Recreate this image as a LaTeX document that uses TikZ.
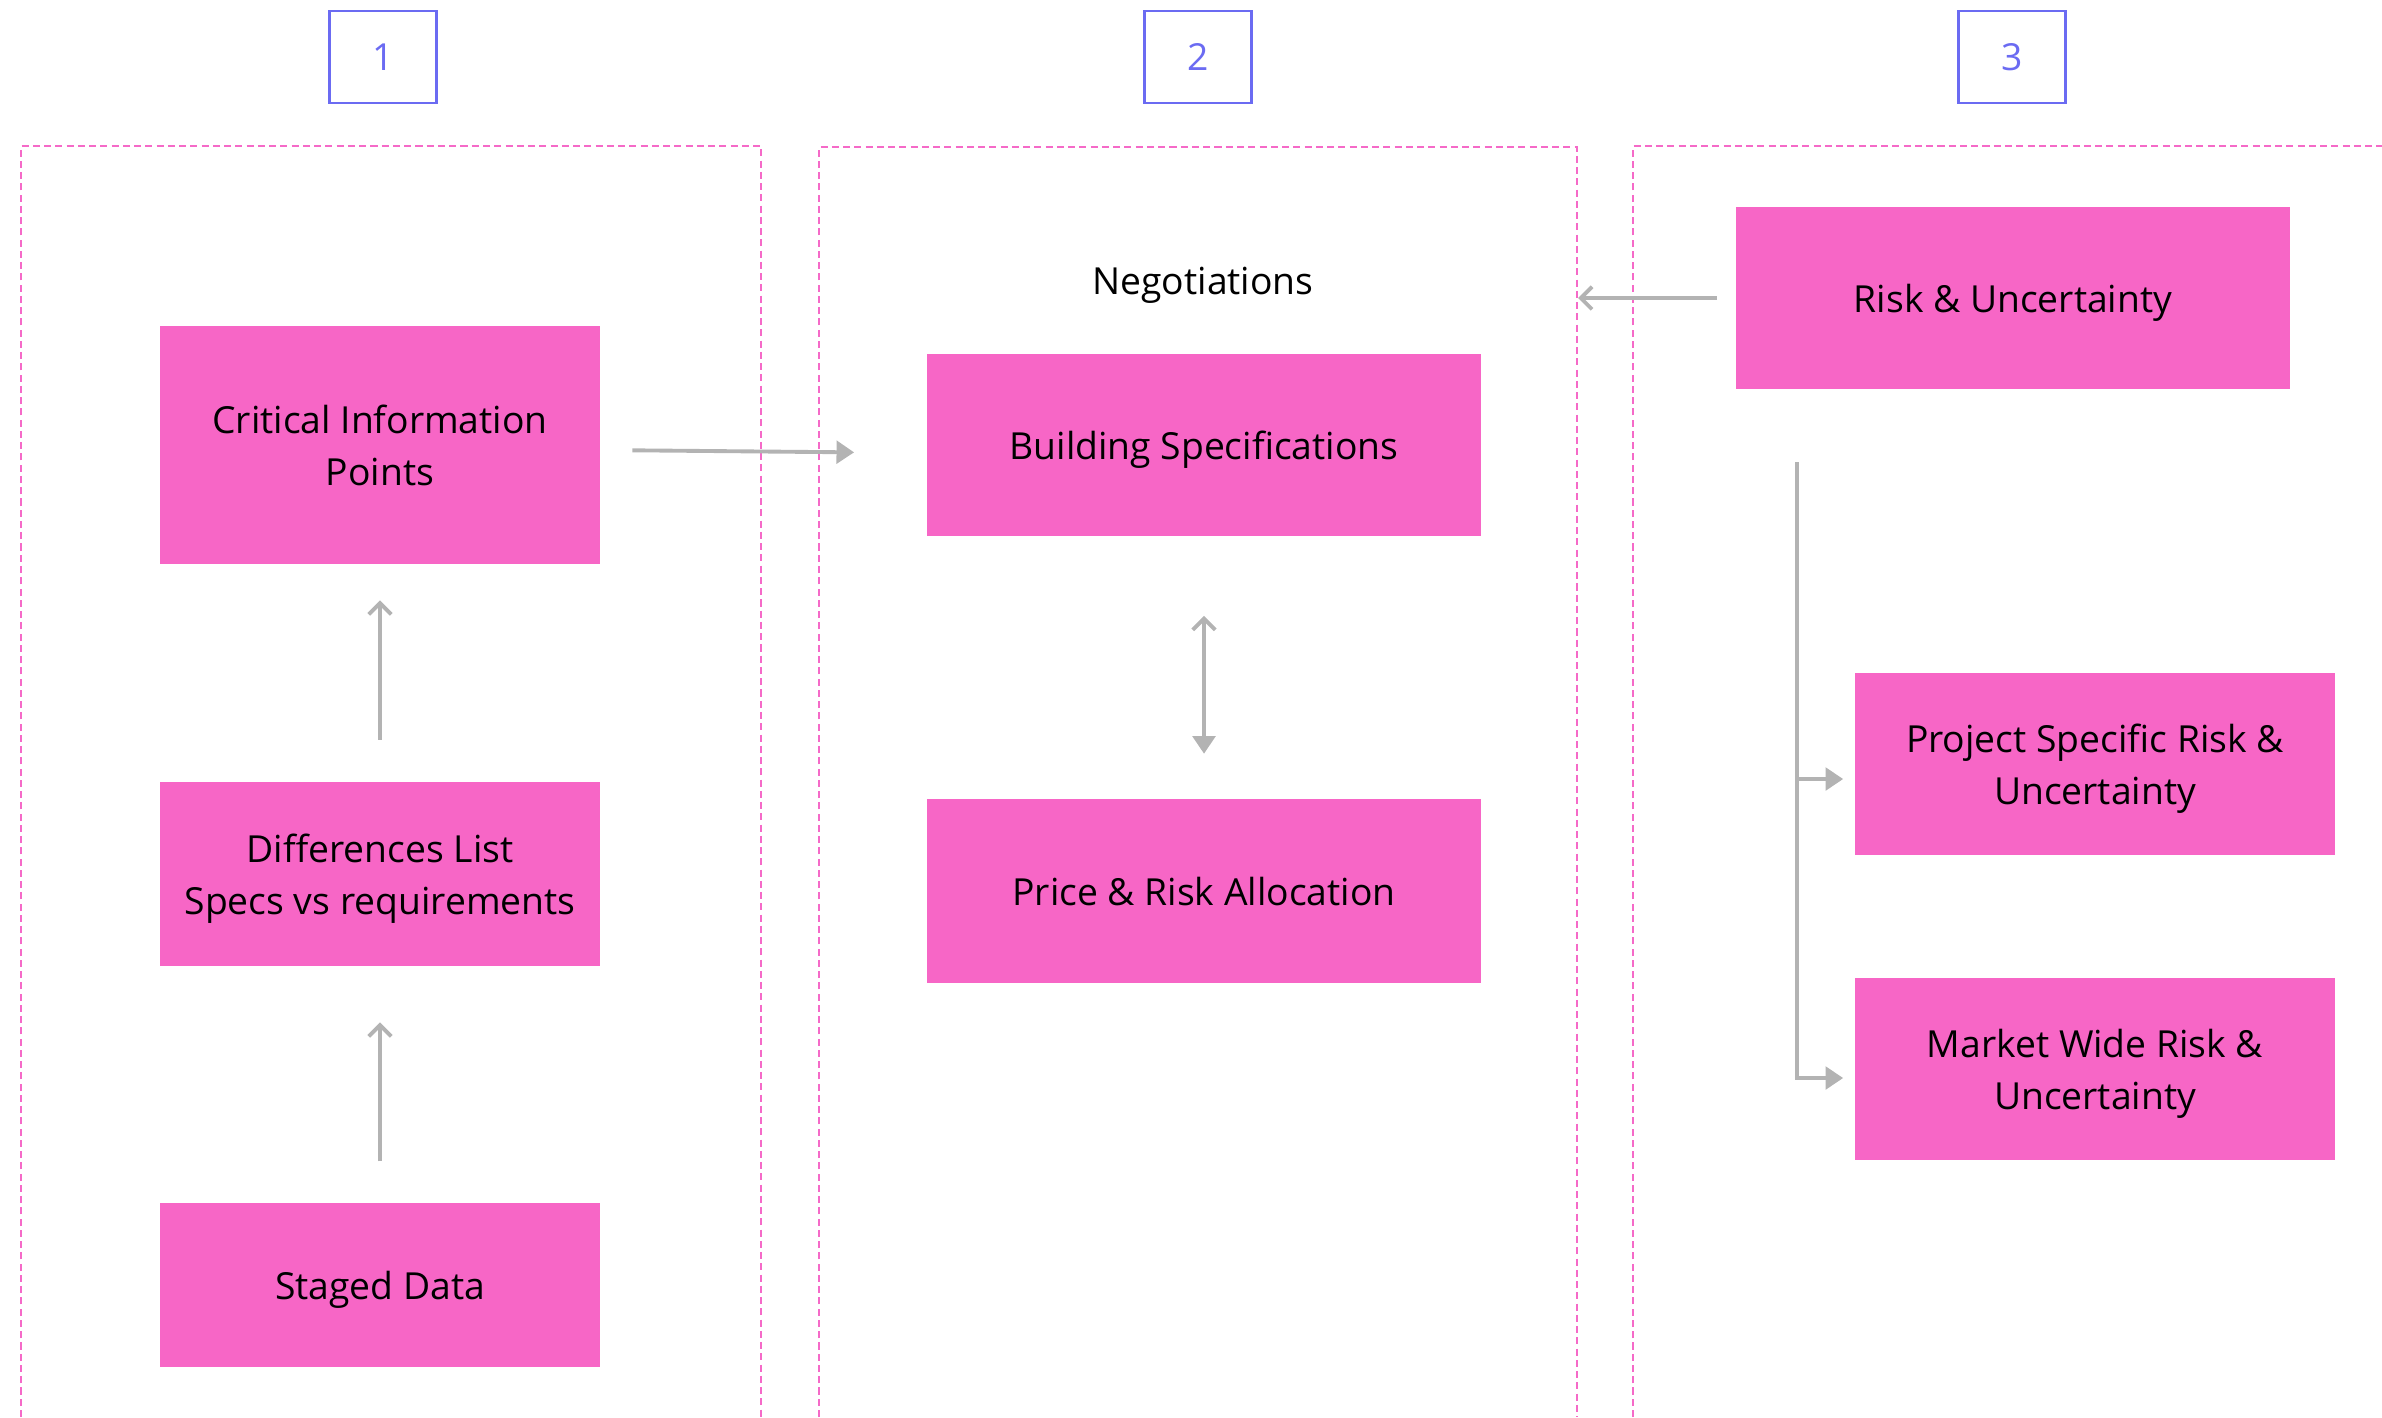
\documentclass[tikz,border=0pt]{standalone}
\usepackage{fontspec}
\setmainfont{Open Sans}
\usetikzlibrary{arrows.meta}
\definecolor{boxpink}{HTML}{F766C6}
\definecolor{zonepink}{HTML}{F56AC8}
\definecolor{stepblue}{HTML}{6B6BF2}
\definecolor{linkgray}{HTML}{B3B3B3}
\tikzset{
  chev/.tip={Straight Barb[length=3.2pt,width=6.4pt,line width=1.1pt]},
  tri/.tip={Triangle[length=5pt,width=6.4pt]}
}

\begin{document}
\begin{tikzpicture}[x=0.01cm,y=-0.01cm,
    label text/.style={font=\fontsize{10.6}{14.7}\selectfont,text depth=0pt},
    block/.style={label text,fill=boxpink,inner sep=0pt,align=center},
    numbox/.style={draw=stepblue,line width=0.7pt,text=stepblue,inner sep=0pt,
      minimum width=1.07cm,minimum height=0.92cm,font=\fontsize{10.6}{14.7}\selectfont},
    zone/.style={draw=zonepink,line width=0.55pt,dash pattern=on 2pt off 1.2pt},
    link/.style={draw=linkgray,line width=1.1pt}]
        \useasboundingbox (0,0) rectangle (2382,1417);
        % column frames, open at the bottom
        \draw[zone] (21,1417) |- (761,146) -- (761,1417);
        \draw[zone] (819,1417) |- (1577,147) -- (1577,1417);
        \draw[zone] (1633,1417) |- (2382,146);
        % step numbers
        \node[numbox] (n1) at (383,57) {1};
        \node[numbox] (n2) at (1198,57) {2};
        \node[numbox] (n3) at (2012,57) {3};
        % column 1
        \node[block,minimum width=4.39cm,minimum height=2.37cm] (cip) at (380,445) {Critical Information\\Points};
        \node[block,minimum width=4.39cm,minimum height=1.83cm] (diff) at (380,874) {Differences List\\Specs vs requirements};
        \node[block,minimum width=4.39cm,minimum height=1.64cm] (staged) at (380,1285) {Staged Data};
        % column 2
        \node[label text] (nego) at (1203,281) {Negotiations};
        \node[block,minimum width=5.54cm,minimum height=1.82cm] (spec) at (1204,445) {Building Specifications};
        \node[block,minimum width=5.54cm,minimum height=1.83cm] (price) at (1204,891) {Price \& Risk Allocation};
        % column 3
        \node[block,minimum width=5.54cm,minimum height=1.82cm] (risk) at (2013,298) {Risk \& Uncertainty};
        \node[block,minimum width=4.80cm,minimum height=1.82cm] (proj) at (2095,764) {Project Specific Risk \&\\Uncertainty};
        \node[block,minimum width=4.80cm,minimum height=1.82cm] (market) at (2095,1069) {Market Wide Risk \&\\Uncertainty};
        \coordinate (frame2) at (1578,298);
        \coordinate (trunk) at (1797,462);
        % links
        \draw[link,-chev,shorten <=0.41cm,shorten >=0.56cm] (staged) -- (diff);
        \draw[link,-chev,shorten <=0.42cm,shorten >=0.36cm] (diff) -- (cip);
        \draw[link,-tri,shorten <=0.32cm,shorten >=0.72cm] ([yshift=-0.05cm]cip.east) -- ([yshift=-0.08cm]spec.west);
        \draw[link,chev-tri,shorten <=0.79cm,shorten >=0.45cm] (spec) -- (price);
        \draw[link,-chev,shorten <=0.18cm] (risk.west) -- (frame2);
        \draw[link,-tri,shorten >=0.11cm] (trunk) |- ([yshift=-0.15cm]proj.west);
        \draw[link,-tri,shorten >=0.11cm] (trunk) |- ([yshift=-0.09cm]market.west);
    \end{tikzpicture}
\end{document}
